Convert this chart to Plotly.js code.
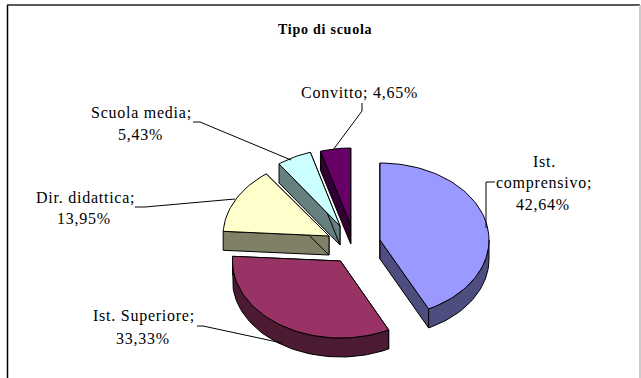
<!DOCTYPE html>
<html>
<head>
<meta charset="utf-8">
<script src="https://cdn.plot.ly/plotly-3.0.1.min.js"></script>
<style>
html,body{margin:0;padding:0;background:#fff;overflow:hidden}
.annotation-text{letter-spacing:0.75px}
</style>
</head>
<body>
<div id="chart" style="width:641px;height:378px"></div>
<script>
// Data
var categories = ["Ist. comprensivo", "Ist. Superiore", "Dir. didattica", "Scuola media", "Convitto"];
var values = [42.64, 33.33, 13.95, 5.43, 4.65];

// Styles
var topColors = ["#9999FF", "#993366", "#FFFFCC", "#CCFFFF", "#660066"];
var sideColors = ["#4D4D80", "#4D1A33", "#808066", "#668080", "#330033"];

// Pie geometry on the axes (0..641, 378..0)
var apexX = [380, 340.5, 329, 340, 350.7];
var apexY = [240, 261, 236, 226, 225];
var radiusX = [109, 108, 106, 103, 105];
var radiusY = 77, depth = 19;

// Label lines
var labelLines = [
  {x: 544, y: 161, t: "Ist."},
  {x: 544, y: 183, t: "comprensivo;"},
  {x: 543, y: 204, t: "42,64%"},
  {x: 144, y: 316, t: "Ist. Superiore;"},
  {x: 143, y: 338, t: "33,33%"},
  {x: 85, y: 197, t: "Dir. didattica;"},
  {x: 84, y: 218, t: "13,95%"},
  {x: 141, y: 112, t: "Scuola media;"},
  {x: 140, y: 134, t: "5,43%"},
  {x: 359, y: 92, t: "Convitto; 4,65%"}
];
var leaderX = [[495,486,486],[197,203,282],[135,145,235],[193,200,291],[362,362,333]];
var leaderY = [[182,182,228],[326,326,343],[207,207,199],[122,122,160],[103,111,150]];

function px(i, deg) { return apexX[i] + radiusX[i] * Math.sin(deg * Math.PI / 180); }
function py(i, deg, drop) { return apexY[i] - radiusY * Math.cos(deg * Math.PI / 180) + (drop || 0); }

function face(xs, ys, color) {
  return {type: "scatter", mode: "lines", x: xs, y: ys, fill: "toself", fillcolor: color,
          line: {color: "#000", width: 1}, hoverinfo: "skip", showlegend: false};
}

var total = values.reduce(function (a, b) { return a + b; }, 0);
var angles = [0];
values.forEach(function (v, i) { angles.push(angles[i] + v / total * 360); });

var traces = [];
[4, 3, 2, 1, 0].forEach(function (i) {
  var a0 = angles[i], a1 = angles[i + 1];
  // straight side walls
  [a0, a1].forEach(function (a) {
    traces.push(face(
      [apexX[i], px(i, a), px(i, a), apexX[i], apexX[i]],
      [apexY[i], py(i, a), py(i, a, depth), apexY[i] + depth, apexY[i]],
      sideColors[i]));
  });
  // curved wall on the near half
  var r0 = Math.max(a0, 90), r1 = Math.min(a1, 270);
  if (r1 > r0) {
    var xs = [], ys = [], bx = [], by = [], d;
    for (d = r0; d < r1; d += 2) {
      xs.push(px(i, d)); ys.push(py(i, d));
      bx.unshift(px(i, d)); by.unshift(py(i, d, depth));
    }
    xs.push(px(i, r1)); ys.push(py(i, r1));
    bx.unshift(px(i, r1)); by.unshift(py(i, r1, depth));
    xs = xs.concat(bx); ys = ys.concat(by);
    xs.push(xs[0]); ys.push(ys[0]);
    traces.push(face(xs, ys, sideColors[i]));
  }
  // top face
  var tx = [apexX[i]], ty = [apexY[i]], a;
  for (a = a0; a < a1; a += 2) { tx.push(px(i, a)); ty.push(py(i, a)); }
  tx.push(px(i, a1)); ty.push(py(i, a1));
  tx.push(apexX[i]); ty.push(apexY[i]);
  traces.push(face(tx, ty, topColors[i]));
});

leaderX.forEach(function (lx, i) {
  traces.push({type: "scatter", mode: "lines", x: lx, y: leaderY[i],
               line: {color: "#000", width: 1}, hoverinfo: "skip", showlegend: false});
});

var annotations = labelLines.map(function (l) {
  return {x: l.x, y: l.y, xref: "x", yref: "y", text: l.t, showarrow: false,
          xanchor: "center", yanchor: "middle",
          font: {family: "Liberation Serif", size: 16, color: "#000"}};
});
annotations.push({x: 325, y: 29, xref: "x", yref: "y", text: "<b>Tipo di scuola</b>", showarrow: false,
                  xanchor: "center", yanchor: "middle",
                  font: {family: "Liberation Serif", size: 14, color: "#000"}});

var frame = [
  {x0: 7.5, x1: 7.5, y0: 5, y1: 378, c: "#000", w: 1.5},
  {x0: 7, x1: 640, y0: 5, y1: 5, c: "#222", w: 1.5},
  {x0: 640, x1: 640, y0: 5, y1: 378, c: "#bbb", w: 1.5}
].map(function (s) {
  return {type: "line", xref: "x", yref: "y", x0: s.x0, x1: s.x1, y0: s.y0, y1: s.y1,
          line: {color: s.c, width: s.w}};
});

Plotly.newPlot("chart", traces, {
  width: 641, height: 378,
  margin: {l: 0, r: 0, t: 0, b: 0},
  paper_bgcolor: "#fff", plot_bgcolor: "#fff",
  showlegend: false,
  xaxis: {range: [0, 641], visible: false, fixedrange: true},
  yaxis: {range: [378, 0], visible: false, fixedrange: true},
  annotations: annotations,
  shapes: frame
}, {staticPlot: true, displayModeBar: false});
</script>
</body>
</html>
